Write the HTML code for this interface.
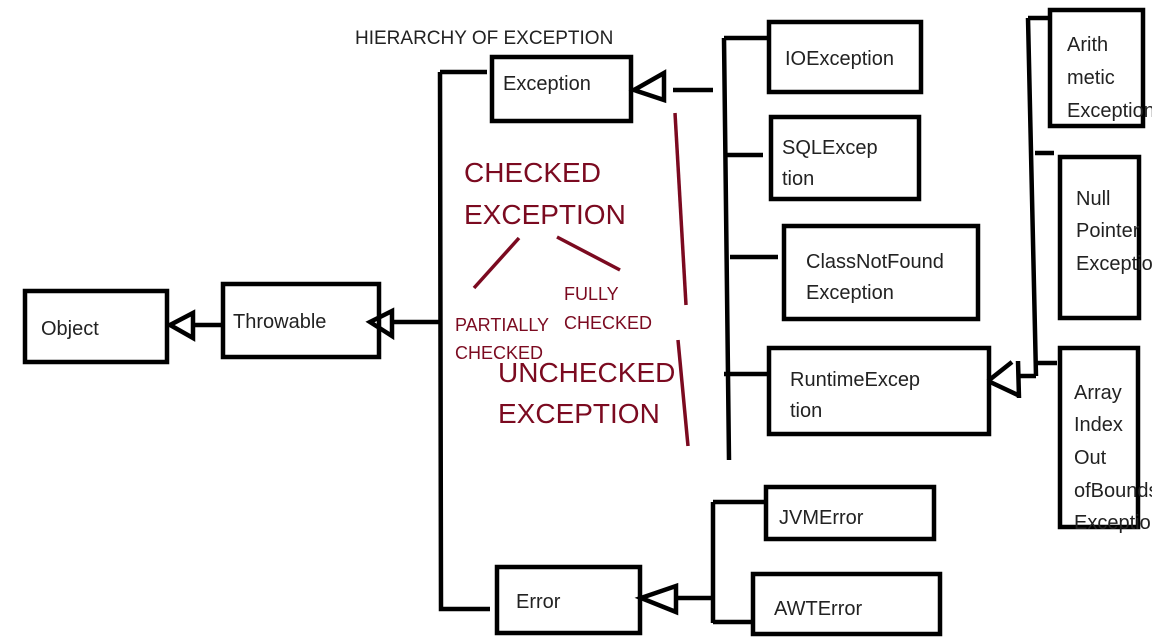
<!DOCTYPE html>
<html><head><meta charset="utf-8"><style>
body{margin:0;background:#fff;overflow:hidden;}
svg{display:block;}
text{font-family:"Liberation Sans",sans-serif;}
</style></head><body>
<svg width="1152" height="639" viewBox="0 0 1152 639" xmlns="http://www.w3.org/2000/svg">
<g fill="none" stroke="#000" stroke-width="4.5">
<rect x="25" y="291" width="142" height="71"/>
<rect x="223" y="284" width="156" height="73"/>
<rect x="492" y="57" width="139" height="64"/>
<rect x="497" y="567" width="143" height="66"/>
<rect x="769" y="22" width="152" height="70"/>
<rect x="771" y="117" width="148" height="82"/>
<rect x="784" y="226" width="194" height="93"/>
<rect x="769" y="348" width="220" height="86"/>
<rect x="766" y="487" width="168" height="52"/>
<rect x="753" y="574" width="187" height="60"/>
<rect x="1050" y="10" width="93" height="116"/>
<rect x="1060" y="157" width="79" height="161"/>
<rect x="1060" y="348" width="78" height="179"/>
<path d="M440 72 L487 72 M440 72 L441 609 L490 609"/>
<path d="M193 325 L222 325 M170 325 L193 313 L193 338 Z"/>
<path d="M392 322 L440 322 M370 322 L392 311 L392 336 Z"/>
<path d="M673 90 L713 90 M634 90 L664 73 L664 100 Z"/>
<path d="M724 38 L729 460 M724 38 L768 38 M727 155 L763 155 M730 257 L778 257 M724 374 L768 374"/>
<path d="M676 598 L713 598 M641 598 L676 586 L676 612 Z M713 502 L713 623 M713 502 L765 502 M713 622 L753 622"/>
<path d="M1018 376 L1036 376 M988 381 L1012 362 M988 381 L1020 396 M1018 361 L1019 398"/>
<path d="M1028 18 L1036 376 M1028 18 L1050 18 M1035 153 L1054 153 M1034 363 L1057 363"/>
</g>
<g stroke="#7b0a20" stroke-width="3.5">
<line x1="675" y1="113" x2="686" y2="305"/>
<line x1="678" y1="340" x2="688" y2="446"/>
<line x1="474" y1="288" x2="519" y2="238"/>
<line x1="557" y1="237" x2="620" y2="270"/>
</g>
<g fill="#222" font-size="20">
<text x="355" y="44" font-size="19">HIERARCHY OF EXCEPTION</text>
<text x="41" y="335">Object</text>
<text x="233" y="328">Throwable</text>
<text x="503" y="90">Exception</text>
<text x="516" y="608">Error</text>
<text x="785" y="65">IOException</text>
<text x="782" y="154">SQLExcep</text>
<text x="782" y="185">tion</text>
<text x="806" y="268">ClassNotFound</text>
<text x="806" y="299">Exception</text>
<text x="790" y="386">RuntimeExcep</text>
<text x="790" y="417">tion</text>
<text x="779" y="524">JVMError</text>
<text x="774" y="615">AWTError</text>
<text x="1067" y="51">Arith</text>
<text x="1067" y="84">metic</text>
<text x="1067" y="117">Exception</text>
<text x="1076" y="205">Null</text>
<text x="1076" y="237">Pointer</text>
<text x="1076" y="270">Exception</text>
<text x="1074" y="399">Array</text>
<text x="1074" y="431">Index</text>
<text x="1074" y="464">Out</text>
<text x="1074" y="497">ofBounds</text>
<text x="1074" y="529">Exception</text>
</g>
<g fill="#7b0a20">
<text x="464" y="182" font-size="28">CHECKED</text>
<text x="464" y="224" font-size="28">EXCEPTION</text>
<text x="564" y="300" font-size="18">FULLY</text>
<text x="564" y="329" font-size="18">CHECKED</text>
<text x="455" y="331" font-size="18">PARTIALLY</text>
<text x="455" y="359" font-size="18">CHECKED</text>
<text x="498" y="382" font-size="28">UNCHECKED</text>
<text x="498" y="423" font-size="28">EXCEPTION</text>
</g>
</svg>
</body></html>
